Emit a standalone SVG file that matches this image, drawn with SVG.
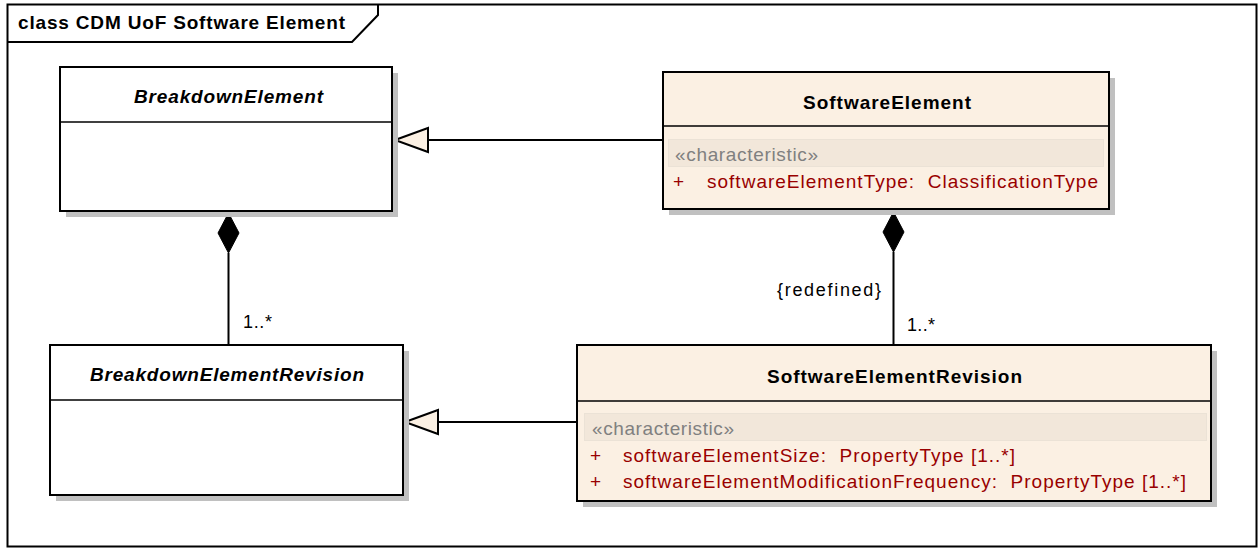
<svg xmlns="http://www.w3.org/2000/svg" width="1260" height="549" viewBox="0 0 1260 549">
  <defs>
    <style>
      .frame { fill: #ffffff; stroke: #000000; stroke-width: 2; }
      .shadow { fill: #c0c0c0; stroke: none; }
      .box { stroke: #000000; stroke-width: 2; }
      .abstract { fill: #ffffff; }
      .concrete { fill: #fbf0e3; }
      .divider { stroke: #000000; stroke-width: 1.5; }
      .band { fill: #f2e7da; stroke: #ebe2d6; stroke-width: 1; }
      .name { font-family: "Liberation Sans", Arial, sans-serif; font-size: 19px; font-weight: bold; fill: #000000; }
      .italic { font-style: italic; }
      .stereo { font-family: "Liberation Sans", Arial, sans-serif; font-size: 19px; fill: #808080; }
      .attr { font-family: "Liberation Sans", Arial, sans-serif; font-size: 19px; fill: #990000; white-space: pre; }
      .label { font-family: "Liberation Sans", Arial, sans-serif; font-size: 18px; fill: #000000; }
      .title { font-family: "Liberation Sans", Arial, sans-serif; font-size: 19px; font-weight: bold; fill: #000000; }
      .line { stroke: #000000; stroke-width: 2; fill: none; }
      .gen { fill: #fbf0e3; stroke: #000000; stroke-width: 2; }
      .comp { fill: #000000; stroke: #000000; stroke-width: 1; }
    </style>
  </defs>

  <!-- diagram frame with name tab -->
  <g id="frame">
    <rect class="frame" x="7.5" y="4.5" width="1249" height="542"/>
    <path d="M7.5 42 H352 L378 15 V4.5" fill="none" stroke="#000000" stroke-width="2"/>
    <text class="title" x="18" y="29" textLength="327" lengthAdjust="spacing">class CDM UoF Software Element</text>
  </g>

  <!-- connectors -->
  <g id="connectors">
    <!-- SoftwareElement generalizes BreakdownElement -->
    <line class="line" x1="663" y1="140" x2="428" y2="140"/>
    <polygon class="gen" points="395,140 428,128 428,152"/>
    <!-- SoftwareElementRevision generalizes BreakdownElementRevision -->
    <line class="line" x1="577" y1="422" x2="438" y2="422"/>
    <polygon class="gen" points="405,422 438,410 438,434"/>
    <!-- BreakdownElement composes BreakdownElementRevision -->
    <line class="line" x1="228.5" y1="253" x2="228.5" y2="345"/>
    <polygon class="comp" points="228.5,213 239,233 228.5,253 218,233"/>
    <text class="label" x="243" y="328" textLength="29" lengthAdjust="spacing">1..*</text>
    <!-- SoftwareElement composes SoftwareElementRevision -->
    <line class="line" x1="893.5" y1="252" x2="893.5" y2="345"/>
    <polygon class="comp" points="893.5,212 904,232 893.5,252 883,232"/>
    <text class="label" x="777" y="296" textLength="104" lengthAdjust="spacing">{redefined}</text>
    <text class="label" x="907" y="331" textLength="28" lengthAdjust="spacing">1..*</text>
  </g>

  <!-- BreakdownElement (abstract) -->
  <g id="BreakdownElement">
    <rect class="shadow" x="66" y="73" width="332" height="144"/>
    <rect class="box abstract" x="60" y="67" width="332" height="144"/>
    <line class="divider" x1="60" y1="122" x2="392" y2="122"/>
    <text class="name italic" x="134" y="103" textLength="189" lengthAdjust="spacing">BreakdownElement</text>
  </g>

  <!-- SoftwareElement -->
  <g id="SoftwareElement">
    <rect class="shadow" x="669" y="78" width="446" height="137"/>
    <rect class="box concrete" x="663" y="72" width="446" height="137"/>
    <line class="divider" x1="663" y1="126" x2="1109" y2="126"/>
    <text class="name" x="803" y="109" textLength="168" lengthAdjust="spacing">SoftwareElement</text>
    <rect class="band" x="668.5" y="139.5" width="435" height="27"/>
    <text class="stereo" x="675" y="161" textLength="143" lengthAdjust="spacing">«characteristic»</text>
    <text class="attr" x="673" y="188">+</text>
    <text class="attr" x="707" y="188" textLength="391" lengthAdjust="spacing">softwareElementType:  ClassificationType</text>
  </g>

  <!-- BreakdownElementRevision (abstract) -->
  <g id="BreakdownElementRevision">
    <rect class="shadow" x="56" y="351" width="353" height="150"/>
    <rect class="box abstract" x="50" y="345" width="353" height="150"/>
    <line class="divider" x1="50" y1="400" x2="403" y2="400"/>
    <text class="name italic" x="90" y="381" textLength="274" lengthAdjust="spacing">BreakdownElementRevision</text>
  </g>

  <!-- SoftwareElementRevision -->
  <g id="SoftwareElementRevision">
    <rect class="shadow" x="583" y="351" width="634" height="156"/>
    <rect class="box concrete" x="577" y="345" width="634" height="156"/>
    <line class="divider" x1="577" y1="401" x2="1211" y2="401"/>
    <text class="name" x="767" y="383" textLength="255" lengthAdjust="spacing">SoftwareElementRevision</text>
    <rect class="band" x="584.5" y="413.5" width="622" height="27"/>
    <text class="stereo" x="592" y="435" textLength="142" lengthAdjust="spacing">«characteristic»</text>
    <text class="attr" x="590" y="462">+</text>
    <text class="attr" x="623" y="462" textLength="392" lengthAdjust="spacing">softwareElementSize:  PropertyType [1..*]</text>
    <text class="attr" x="590" y="488">+</text>
    <text class="attr" x="623" y="488" textLength="563" lengthAdjust="spacing">softwareElementModificationFrequency:  PropertyType [1..*]</text>
  </g>
</svg>
